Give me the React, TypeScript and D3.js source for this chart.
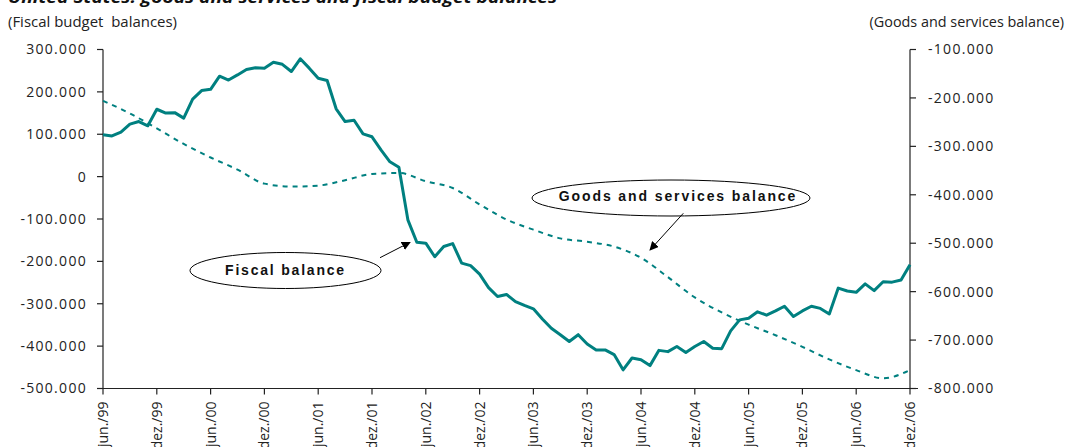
import React from "react";
import * as d3 from "d3";

const W = 1068;
const H = 447;

const monthLabels = [
  "jun./99", "dez./99", "jun./00", "dez./00", "jun./01", "dez./01", "jun./02", "dez./02",
  "jun./03", "dez./03", "jun./04", "dez./04", "jun./05", "dez./05", "jun./06", "dez./06",
];

// Fiscal budget balance, monthly from jun/99 (index 0) to dez/06 (index 90)
const fiscalBalance = [
  99, 96, 105, 124, 130, 120, 159, 150, 151, 138,
  183, 203, 206, 237, 228, 240, 253, 257, 256, 270,
  265, 248, 278, 256, 232, 227, 160, 130, 133, 101,
  94, 63, 35, 22, -102, -155, -157, -189, -165, -158,
  -204, -210, -230, -262, -283, -278, -295, -304, -312, -336,
  -358, -373, -389, -373, -395, -409, -409, -420, -456, -428,
  -432, -446, -410, -413, -401, -415, -401, -389, -405, -406,
  -364, -338, -334, -319, -327, -317, -306, -330, -317, -306,
  -311, -324, -263, -270, -273, -253, -269, -248, -249, -244,
  -208,
];

// Goods and services balance, quarterly readings (month index from jun/99)
const goodsMonths = [0, 3, 6, 9, 12, 15, 18, 21, 24, 27, 30, 33, 36, 39, 42, 45, 48, 51, 54, 57, 60, 63, 66, 69, 72, 75, 78, 81, 84, 87, 90];
const goodsBalance = [
  -206, -232, -263, -295, -323, -348, -377, -383, -381, -370,
  -357, -355, -372, -386, -420, -451, -472, -490, -497, -507,
  -530, -570, -612, -643, -668, -690, -714, -740, -762, -779,
  -762,
];

const leftTicks = [300, 200, 100, 0, -100, -200, -300, -400, -500];
const rightTicks = [-100, -200, -300, -400, -500, -600, -700, -800];

const TEAL = "#008080";
const LABEL_FONT = "'Open Sans', 'Noto Sans', sans-serif";

const fmtThousand = (v: number) => {
  if (v === 0) return "0";
  const s = Math.abs(v).toFixed(0) + ".000";
  return (v < 0 ? "-" : "") + s;
};

export default function App() {
  const x0 = 103;
  const x1 = 910;
  const yTop = 49.5;
  const yBot = 388.5;

  const x = d3.scaleLinear().domain([0, 90]).range([x0, x1]);
  const yL = d3.scaleLinear().domain([-500, 300]).range([yBot, yTop]);
  const yR = d3.scaleLinear().domain([-800, -100]).range([yBot, yTop]);

  const fiscalLine = d3
    .line<number>()
    .x((_, i) => x(i))
    .y((d) => yL(d))(fiscalBalance) as string;

  const goodsLine = d3
    .line<number>()
    .x((_, i) => x(goodsMonths[i]))
    .y((d) => yR(d))
    .curve(d3.curveMonotoneX)(goodsBalance) as string;

  const tickFont = { fontFamily: LABEL_FONT, fontSize: 14, letterSpacing: 1.3, fill: "#222" } as const;
  const xTickFont = { fontFamily: LABEL_FONT, fontSize: 14, fill: "#222" } as const;

  return (
    <svg width={W} height={H} style={{ position: "absolute", left: 0, top: 0 }} viewBox={`0 0 ${W} ${H}`}>
      <defs>
        <marker id="arrow" viewBox="0 0 10 10" refX="9" refY="5" markerWidth="9" markerHeight="9" orient="auto" markerUnits="userSpaceOnUse">
          <path d="M0,0 L10,5 L0,10 z" fill="#000" />
        </marker>
      </defs>
      <rect width={W} height={H} fill="#fff" />
      <text x={8} y={3} textLength={549} lengthAdjust="spacingAndGlyphs" style={{ fontFamily: LABEL_FONT, fontSize: 16, fontWeight: 700, fontStyle: "italic", fill: "#111" }}>
        United States: goods and services and fiscal budget balances
      </text>
      <text x={8} y={27} textLength={169} lengthAdjust="spacingAndGlyphs" style={{ fontFamily: LABEL_FONT, fontSize: 14.5, fill: "#222", whiteSpace: "pre" }}>
        {"(Fiscal budget  balances)"}
      </text>
      <text x={1064} y={27} textAnchor="end" style={{ fontFamily: LABEL_FONT, fontSize: 14.4, fill: "#222" }}>
        (Goods and services balance)
      </text>

      {/* left axis */}
      <line x1={x0} x2={x0} y1={yTop} y2={yBot} stroke="#222" strokeWidth={1.2} />
      {leftTicks.map((t) => (
        <g key={"l" + t}>
          <line x1={x0 - 6} x2={x0} y1={yL(t)} y2={yL(t)} stroke="#222" strokeWidth={1.2} />
          <text x={x0 - 16} y={yL(t)} dy="0.35em" textAnchor="end" style={tickFont}>
            {fmtThousand(t)}
          </text>
        </g>
      ))}

      {/* right axis */}
      <line x1={x1} x2={x1} y1={yTop} y2={yBot} stroke="#222" strokeWidth={1.2} />
      {rightTicks.map((t) => (
        <g key={"r" + t}>
          <line x1={x1} x2={x1 + 6} y1={yR(t)} y2={yR(t)} stroke="#222" strokeWidth={1.2} />
          <text x={x1 + 18} y={yR(t)} dy="0.35em" textAnchor="start" style={tickFont}>
            {fmtThousand(t)}
          </text>
        </g>
      ))}

      {/* bottom axis */}
      <line x1={x0} x2={x1 + 8} y1={yBot} y2={yBot} stroke="#222" strokeWidth={1.2} />
      {monthLabels.map((lab, i) => (
        <g key={lab}>
          <line x1={x(i * 6)} x2={x(i * 6)} y1={yBot} y2={yBot + 6} stroke="#222" strokeWidth={1.2} />
          <text
            transform={`translate(${x(i * 6)},${yBot + 13}) rotate(-90)`}
            dy="0.35em"
            textAnchor="end"
            style={xTickFont}
          >
            {lab}
          </text>
        </g>
      ))}

      {/* series */}
      <path d={goodsLine} fill="none" stroke={TEAL} strokeWidth={2} strokeDasharray="5,5" />
      <path d={fiscalLine} fill="none" stroke={TEAL} strokeWidth={3} strokeLinejoin="round" />

      {/* annotations */}
      <ellipse cx={285.5} cy={270.5} rx={95.5} ry={18} fill="#fff" stroke="#000" strokeWidth={1} />
      <text x={285.5} y={270.5} dy="0.35em" textAnchor="middle" style={{ fontFamily: "'Liberation Sans', Arial, sans-serif", fontWeight: 700, fontSize: 14, letterSpacing: 1.8, fill: "#111" }}>
        Fiscal balance
      </text>
      <line x1={380} y1={257.7} x2={410} y2={242.3} stroke="#000" strokeWidth={1} markerEnd="url(#arrow)" />

      <ellipse cx={671} cy={198} rx={139} ry={18} fill="#fff" stroke="#000" strokeWidth={1} />
      <text x={678} y={196} dy="0.35em" textAnchor="middle" style={{ fontFamily: "'Liberation Sans', Arial, sans-serif", fontWeight: 700, fontSize: 14, letterSpacing: 1.9, fill: "#111" }}>
        Goods and services balance
      </text>
      <line x1={683.3} y1={213.3} x2={650} y2={250} stroke="#000" strokeWidth={1} markerEnd="url(#arrow)" />
    </svg>
  );
}
